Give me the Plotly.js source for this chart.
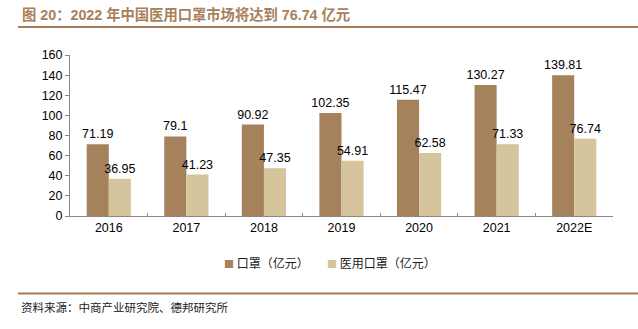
<!DOCTYPE html>
<html>
<head>
<meta charset="utf-8">
<script src="https://cdn.plot.ly/plotly-3.0.1.min.js"></script>
<style>html,body{margin:0;padding:0;background:#fff;}#chart{width:638px;height:329px;}</style>
</head>
<body>
<div id="chart"></div>
<script>
const years = ["2016", "2017", "2018", "2019", "2020", "2021", "2022E"];
const maskMarket = [71.19, 79.1, 90.92, 102.35, 115.47, 130.27, 139.81];
const medicalMaskMarket = [36.95, 41.23, 47.35, 54.91, 62.58, 71.33, 76.74];
const seriesNames = ["口罩（亿元）", "医用口罩（亿元）"];
const seriesColors = ["#A6825C", "#D6C49D"];
const titleText = "图 20：2022 年中国医用口罩市场将达到 76.74 亿元";
const sourceText = "资料来源：中商产业研究院、德邦研究所";

const numFont = "Liberation Sans, Arial, sans-serif";
const cjkFont = "Liberation Sans, Noto Sans CJK SC, sans-serif";

const L = 70, R = 25, T = 55, B = 113;
const W = 638 - L - R, H = 329 - T - B;
const px = v => (v - L) / W;
const py = v => (329 - B - v) / H;

const traces = [
  {type: "bar", x: years, y: maskMarket, name: seriesNames[0],
   marker: {color: seriesColors[0]}, text: maskMarket.map(String), textposition: "outside",
   constraintext: "none", cliponaxis: false, textfont: {family: numFont, size: 12.5, color: "#000"}},
  {type: "bar", x: years, y: medicalMaskMarket, name: seriesNames[1],
   marker: {color: seriesColors[1]}, text: medicalMaskMarket.map(String), textposition: "outside",
   constraintext: "none", cliponaxis: false, textfont: {family: numFont, size: 12.5, color: "#000"}}
];

const legendX = [222, 325];
const legendAnn = seriesNames.map((n, i) => ({
  text: '<span style="color:' + seriesColors[i] + ';font-size:10px">■</span> ' + n,
  xref: "paper", yref: "paper", x: px(legendX[i]), y: py(262),
  xanchor: "left", yanchor: "middle", showarrow: false,
  font: {family: "Noto Sans CJK SC, sans-serif", size: 12, color: "#222"}
}));

const layout = {
  width: 638, height: 329,
  margin: {l: L, r: R, t: T, b: B},
  paper_bgcolor: "#fff", plot_bgcolor: "#fff",
  barmode: "group", bargap: 0.43, bargroupgap: 0,
  showlegend: false,
  xaxis: {type: "category", showline: true, linecolor: "#888", linewidth: 1,
          ticks: "inside", tickson: "boundaries", ticklen: 3, tickcolor: "#888",
          tickfont: {family: numFont, size: 12.5, color: "#000"}, showgrid: false, zeroline: false},
  yaxis: {range: [0, 160], dtick: 20, showline: true, linecolor: "#888", linewidth: 1,
          ticks: "outside", ticklen: 4, tickcolor: "#888", showgrid: false, zeroline: false,
          tickfont: {family: numFont, size: 12.5, color: "#000"}},
  shapes: [
    {type: "line", xref: "paper", yref: "paper", x0: px(18), x1: px(638), y0: py(27), y1: py(27),
     line: {color: "#A67C58", width: 2}},
    {type: "line", xref: "paper", yref: "paper", x0: px(18), x1: px(638), y0: py(293.5), y1: py(293.5),
     line: {color: "#A67C58", width: 2}}
  ],
  annotations: [
    {text: "<b>" + titleText + "</b>", xref: "paper", yref: "paper", x: px(20), y: py(14),
     xanchor: "left", yanchor: "middle", showarrow: false,
     font: {family: cjkFont, size: 14.3, color: "#A8805A"}},
    {text: sourceText, xref: "paper", yref: "paper", x: px(19), y: py(307),
     xanchor: "left", yanchor: "middle", showarrow: false,
     font: {family: "Noto Sans CJK SC, sans-serif", size: 11.5, color: "#222"}}
  ].concat(legendAnn)
};

Plotly.newPlot("chart", traces, layout, {displayModeBar: false, staticPlot: true});
</script>
</body>
</html>
